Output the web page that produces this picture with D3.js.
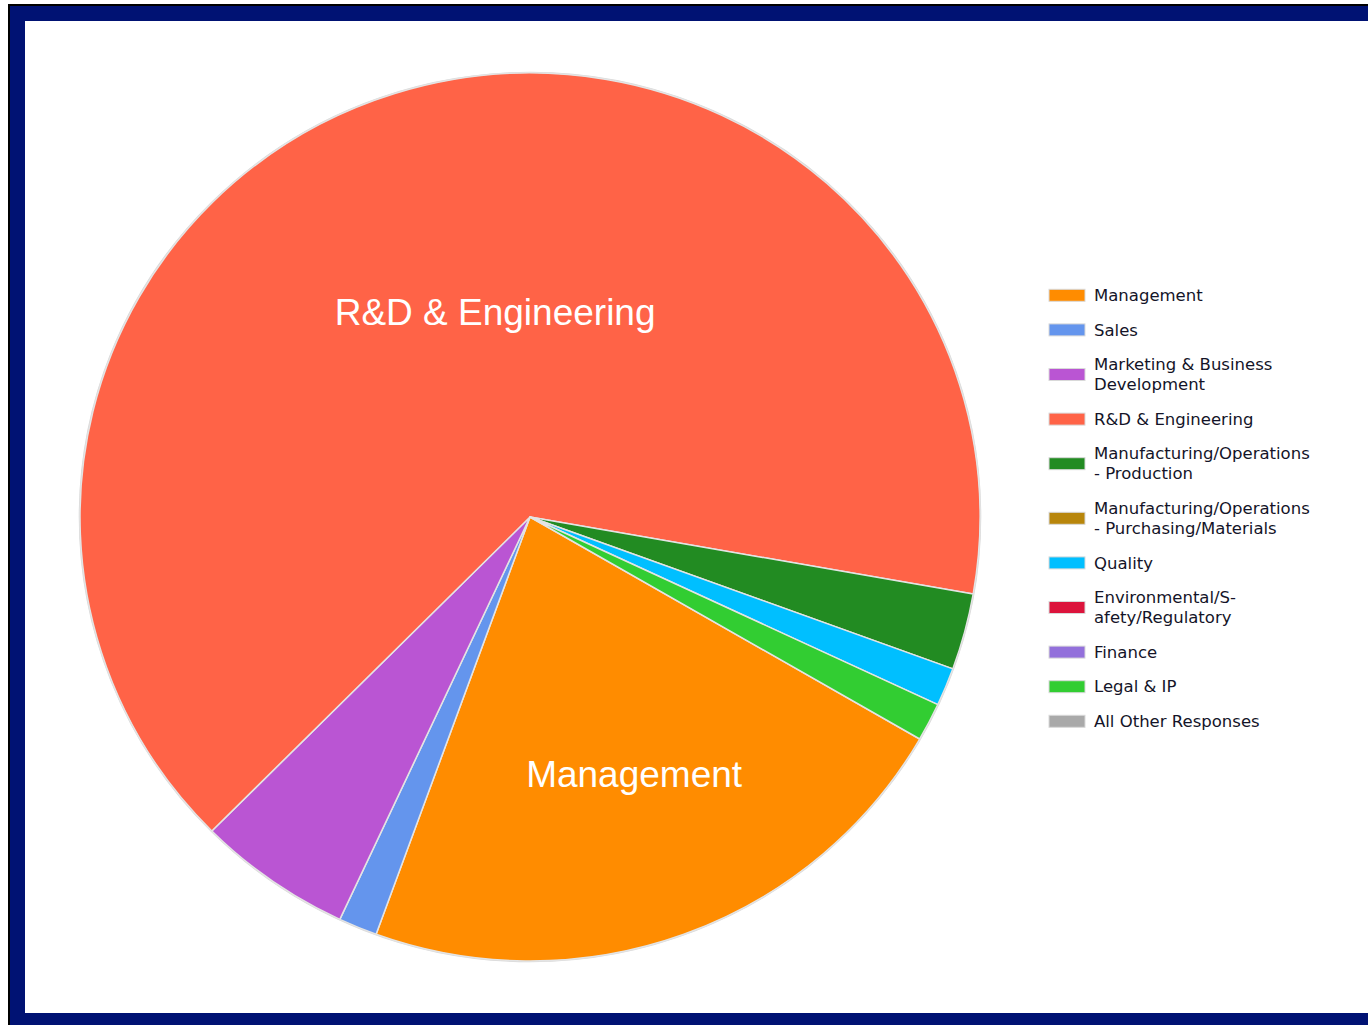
<html>
<style>
    body {
        margin: 0;
        background: #ffffff;
    }
    svg {
        display: block;
    }
</style>

<script src="https://d3js.org/d3.v7.min.js"></script>

<body>
<svg id="Chart"></svg>
</body>

<script>
// data (counts of responses)
let categories = ["Management", "Sales", "Marketing & Business Development", "R&D & Engineering",
    "Manufacturing/Operations - Production", "Manufacturing/Operations - Purchasing/Materials",
    "Quality", "Environmental/Safety/Regulatory", "Finance", "Legal & IP", "All Other Responses"]
let counts = [16, 1, 4, 47, 2, 0, 1, 0, 0, 1, 0]
let legendLines = [["Management"], ["Sales"], ["Marketing & Business", "Development"], ["R&D & Engineering"],
    ["Manufacturing/Operations", "- Production"], ["Manufacturing/Operations", "- Purchasing/Materials"],
    ["Quality"], ["Environmental/S-", "afety/Regulatory"], ["Finance"], ["Legal & IP"], ["All Other Responses"]]
let colors = ["#FF8C00", "#6495ED", "#BA55D3", "#FF6347", "#228B22", "#B8860B",
    "#00BFFF", "#DC143C", "#9370DB", "#32CD32", "#A9A9A9"]
let sliceLabels = ["Management", "R&D & Engineering"]

let width = 1368
let height = 1025
let svg = d3.select("#Chart").attr("width", width).attr("height", height)

function drawFrame() {
    svg.append("rect").attr("x", 8).attr("y", 4).attr("width", width).attr("height", height)
        .attr("fill", "#000000")
    svg.append("rect").attr("x", 10).attr("y", 6).attr("width", width).attr("height", height)
        .attr("fill", "#001273")
    svg.append("rect").attr("x", 25).attr("y", 21).attr("width", width).attr("height", 992)
        .attr("fill", "#ffffff")
}

function drawPie() {
    let cx = 530, cy = 517, radius = 444
    let stretch = 450 / 444   // the pie is drawn a little wider than tall
    let g = svg.append("g").attr("transform", `translate(${cx},${cy}) scale(${stretch},1)`)
    let data = categories.map((c, i) => ({name: c, value: counts[i], color: colors[i]}))
    let start = 120 * Math.PI / 180
    let pie = d3.pie().sort(null).value(d => d.value)
        .startAngle(start).endAngle(start + 2 * Math.PI)
    let arcs = pie(data).filter(d => d.data.value > 0)
    let arc = d3.arc().innerRadius(0).outerRadius(radius)

    g.append("circle").attr("r", radius + 0.5).attr("fill", "none")
        .attr("stroke", "#d8d8d8").attr("stroke-width", 1.5)
    g.selectAll("path").data(arcs).enter().append("path")
        .attr("d", arc)
        .attr("fill", d => d.data.color)
        .attr("stroke", "#e4e4e4")
        .attr("stroke-width", 1.5)
        .attr("stroke-linejoin", "round")

    // label placement: radius fraction and small angle shift (degrees)
    let labelPos = {"Management": [0.623, -1.8], "R&D & Engineering": [0.47, 8]}
    let lg = svg.append("g").attr("transform", `translate(${cx},${cy})`)
    lg.selectAll("text.slice").data(arcs.filter(d => sliceLabels.includes(d.data.name)))
        .enter().append("text")
        .attr("class", "slice")
        .attr("transform", d => {
            let p = labelPos[d.data.name]
            let a = (d.startAngle + d.endAngle) / 2 + p[1] * Math.PI / 180
            let r = radius * p[0]
            return `translate(${Math.sin(a) * r * stretch},${-Math.cos(a) * r})`
        })
        .attr("text-anchor", "middle")
        .attr("dy", "0.36em")
        .attr("fill", "#ffffff")
        .style("font-family", "'Liberation Sans', Arial, sans-serif")
        .style("font-size", "37px")
        .text(d => d.data.name)
}

function drawLegend() {
    let x0 = 1049, y = 278
    let lineH = 20
    let lg = svg.append("g")
    categories.forEach((c, i) => {
        let lines = legendLines[i]
        let h = lines.length * lineH + 14.6
        let mid = y + h / 2
        lg.append("rect").attr("x", x0).attr("y", mid - 6).attr("width", 36).attr("height", 12)
            .attr("fill", colors[i]).attr("stroke", "#d9d9d9").attr("stroke-width", 1)
        let t = lg.append("text")
            .attr("x", x0 + 45)
            .attr("y", mid - (lines.length - 1) * lineH / 2)
            .attr("fill", "#141428")
            .style("font-family", "'DejaVu Sans', sans-serif")
            .style("font-size", "16.5px")
        lines.forEach((l, j) => {
            t.append("tspan").attr("x", x0 + 45).attr("dy", j == 0 ? "0.35em" : lineH).text(l)
        })
        y += h
    })
}

drawFrame()
drawPie()
drawLegend()
</script>
</html>
